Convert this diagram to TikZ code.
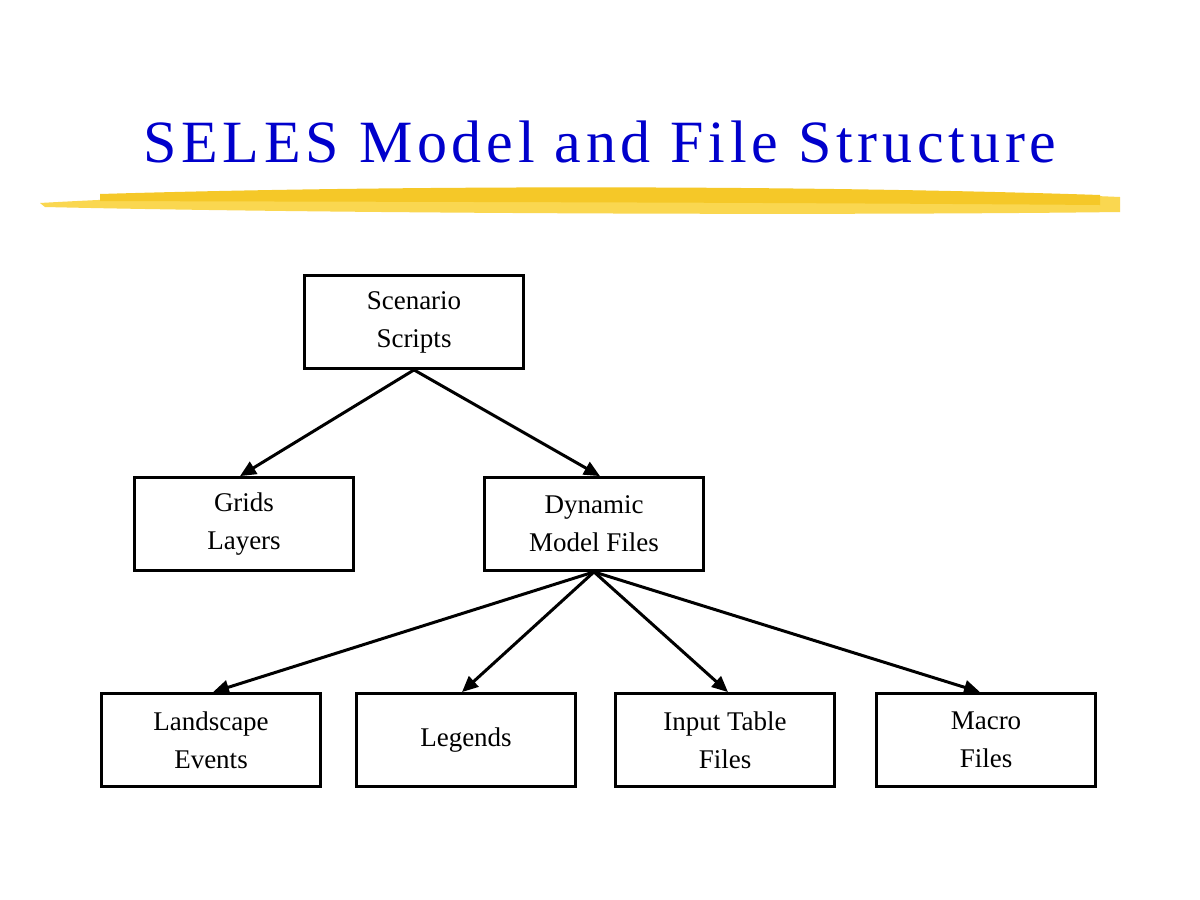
\documentclass[tikz,border=0pt]{standalone}
\usepackage{fontspec}
\setmainfont{Liberation Serif}
\usetikzlibrary{arrows.meta}
\definecolor{gold}{RGB}{245,200,40}
\definecolor{gold2}{RGB}{250,215,80}
\begin{document}
\begin{tikzpicture}[x=1pt,y=-1pt,
  box/.style={draw=black,line width=2.8pt,minimum width=219pt,minimum height=93pt,align=center,font=\fontsize{27}{38}\selectfont,inner sep=0pt},
  arr/.style={line width=3pt,-{Triangle[length=16pt,width=14pt]}}]
\useasboundingbox (0,0) rectangle (1200,900);
\fill[white] (0,0) rectangle (1200,900);
\fill[gold2] (40,203) .. controls (300,188) and (800,183) .. (1120,197) -- (1120,212) .. controls (800,216) and (300,213) .. (45,207) -- cycle;
\fill[gold] (100,194) .. controls (400,185) and (800,185) .. (1100,195) -- (1100,205) .. controls (700,202) and (400,202) .. (100,201) -- cycle;
\node[font=\fontsize{60}{70}\selectfont\addfontfeature{LetterSpace=8},text=blue!80!black] (title) at (600,142) {SELES Model and File Structure};
\node[box] (ss) at (414,322) {Scenario\\Scripts};
\node[box] (gl) at (244,524) {Grids\\Layers};
\node[box] (dm) at (594,524) {Dynamic\\Model Files};
\node[box] (le) at (211,740) {Landscape\\Events};
\node[box] (lg) at (466,740) {Legends};
\node[box] (it) at (725,740) {Input Table\\Files};
\node[box] (mf) at (986,740) {Macro\\Files};
\draw[arr] (ss.south) -- (gl.north -| 240,0);
\draw[arr] (ss.south) -- (dm.north -| 600,0);
\draw[arr] (dm.south) -- (le.north -| 213,0);
\draw[arr] (dm.south) -- (lg.north -| 462,0);
\draw[arr] (dm.south) -- (it.north -| 728,0);
\draw[arr] (dm.south) -- (mf.north -| 980,0);
\end{tikzpicture}
\end{document}
